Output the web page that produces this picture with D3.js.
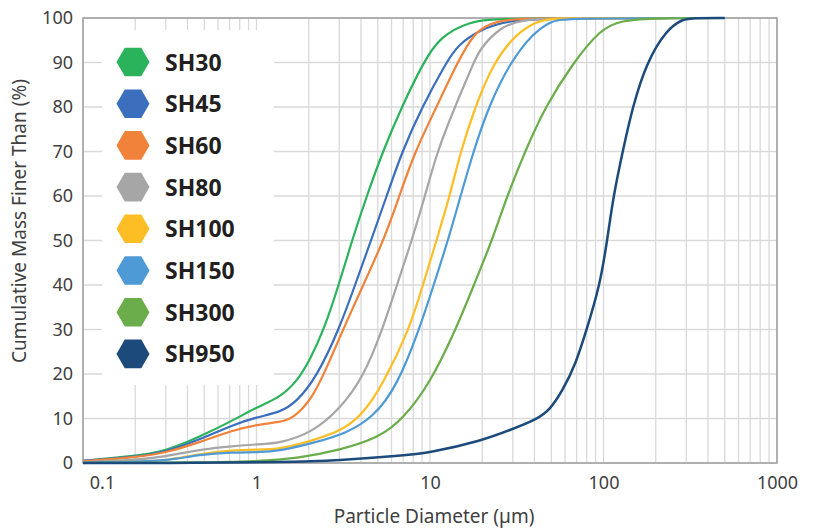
<!DOCTYPE html>
<html>
<head>
<meta charset="utf-8">
<script src="https://cdn.jsdelivr.net/npm/d3@7"></script>
<style>
  body { margin: 0; background: #fff; }
  text { font-family: "Noto Sans", sans-serif; }
</style>
</head>
<body>
<div id="chart"></div>
<script>
// Series names and colours
const seriesNames = ["SH30", "SH45", "SH60", "SH80", "SH100", "SH150", "SH300", "SH950"];
const seriesColors = ["#2bb35c", "#3b6fbe", "#f0823a", "#a6a6a6", "#fdbd24", "#4e9ad6", "#6aad4a", "#1b4a7b"];

// [particle diameter (µm), cumulative % finer]
const sh30 = [[0.1,0.5],[0.195,1.5],[0.303,2.7],[0.472,5.9],[0.734,9.6],[1.0,12.5],[1.37,14.8],[1.70,18.2],[2.03,23.1],[2.45,30],[2.98,40],[3.55,50],[4.32,60],[5.34,70],[6.87,80],[9.15,90],[11.4,95.8],[17.0,99.3],[25.3,100],[500,100]];
const sh45 = [[0.1,0.5],[0.195,1.3],[0.303,2.5],[0.472,5.3],[0.734,8.6],[1.0,10.3],[1.37,11.4],[1.70,13.7],[2.22,19.3],[2.99,30],[3.70,40],[4.57,50],[5.63,60],[6.9,70],[9.0,80],[12.4,90],[14.5,94],[19.4,97.3],[27.6,99.5],[56,100],[500,100]];
const sh60 = [[0.1,0.4],[0.195,1.2],[0.303,2.3],[0.472,4.7],[0.734,7.4],[1.0,8.6],[1.37,9.2],[1.63,10],[2.13,14.8],[2.65,23.1],[3.46,33.6],[5.43,50],[6.65,60],[8.19,70],[10.9,80],[14.4,90],[17.8,96.5],[22.2,98.8],[28.9,99.8],[56,100],[500,100]];
const sh80 = [[0.1,0.2],[0.195,0.6],[0.303,1.5],[0.38,2.3],[0.472,3.0],[0.734,3.8],[1.0,4.2],[1.37,4.4],[2.13,7.0],[3.03,12.2],[4.13,19.3],[5.32,30],[6.45,40],[7.85,50],[9.36,60],[11.0,70],[13.9,80],[17.9,90],[19.2,92.8],[25.3,98],[34.4,99.7],[56,100],[500,100]];
const sh100 = [[0.1,0.1],[0.195,0.3],[0.303,0.5],[0.472,2.1],[0.734,2.9],[1.0,3.0],[1.37,3.1],[2.13,5.1],[3.16,7.4],[4.13,11.1],[5.38,17.9],[7.60,30],[9.11,40],[10.9,50],[13.0,60],[15.0,70],[18.2,80],[23.2,90],[31.6,96.6],[41.2,99.2],[49.2,99.9],[71,100],[500,100]];
const sh150 = [[0.1,0.1],[0.195,0.3],[0.303,0.5],[0.472,1.9],[0.734,2.4],[1.0,2.4],[1.37,2.7],[2.13,4.5],[3.31,6.7],[4.71,10.3],[6.43,17.1],[8.68,30],[10.5,40],[12.7,50],[15.0,60],[17.8,70],[21.7,80],[28.9,90],[39.4,96.6],[49.2,99.2],[59.6,100],[500,100]];
const sh300 = [[0.1,0],[0.47,0.1],[1.0,0.4],[1.70,1.0],[3.03,2.9],[5.15,5.8],[7.02,10],[10.0,17.9],[14.1,30],[17.9,40],[22.8,50],[27.8,60],[35.3,70],[46.0,80],[67.0,90],[95.4,97.3],[124,99.5],[212,100],[500,100]];
const sh950 = [[0.1,0],[0.47,0],[1.37,0.2],[3.03,0.6],[6.7,1.6],[10,2.3],[20.2,5.1],[28.9,7.4],[41.2,9.8],[49,11.9],[58.2,16.3],[69.4,22.4],[80,30],[95.4,40],[105,50],[114,60],[129,70],[147,80],[177,90],[231,97.4],[287,99.8],[330,100],[500,100]];
const seriesData = [sh30, sh45, sh60, sh80, sh100, sh150, sh300, sh950];

// Tick values
const yTicks = [0, 10, 20, 30, 40, 50, 60, 70, 80, 90, 100];
const xTickLabels = [0.1, 1, 10, 100, 1000];

const width = 816;
const height = 529;
const margin = { top: 18, right: 39, bottom: 66, left: 83 };

const svg = d3.select("#chart")
  .append("svg")
  .attr("width", width)
  .attr("height", height);

// Scales
const x = d3.scaleLog()
  .domain([0.1, 1000])
  .range([margin.left, width - margin.right]);

const y = d3.scaleLinear()
  .domain([0, 100])
  .range([height - margin.bottom, margin.top]);

// Grid lines
svg.append("g")
  .selectAll("line")
  .data(x.ticks())
  .join("line")
  .attr("x1", d => x(d)).attr("x2", d => x(d))
  .attr("y1", y(0)).attr("y2", y(100))
  .attr("stroke", "#d9d9d9")
  .attr("stroke-width", 1.3);

svg.append("g")
  .selectAll("line")
  .data(yTicks)
  .join("line")
  .attr("x1", x(0.1)).attr("x2", x(1000))
  .attr("y1", d => y(d)).attr("y2", d => y(d))
  .attr("stroke", "#d9d9d9")
  .attr("stroke-width", 1.3);

// Plot border
svg.append("rect")
  .attr("x", x(0.1))
  .attr("y", y(100))
  .attr("width", x(1000) - x(0.1))
  .attr("height", y(0) - y(100))
  .attr("fill", "none")
  .attr("stroke", "#a3a3a3")
  .attr("stroke-width", 1.6);

// Axes
const yAxis = svg.append("g")
  .attr("transform", `translate(${margin.left},0)`)
  .call(d3.axisLeft(y).tickValues(yTicks).tickSize(0).tickPadding(10));

const xAxis = svg.append("g")
  .attr("transform", `translate(0,${y(0)})`)
  .call(d3.axisBottom(x).tickValues(xTickLabels).tickFormat(d3.format("~g")).tickSize(0).tickPadding(13));

[yAxis, xAxis].forEach(g => {
  g.select(".domain").remove();
  g.selectAll("text")
    .attr("fill", "#404040")
    .style("font-size", "18px");
});
xAxis.selectAll("text").attr("dx", (d, i) => i === 0 ? 19 : 0);

// Axis titles
svg.append("text")
  .attr("x", 434)
  .attr("y", 523)
  .attr("text-anchor", "middle")
  .attr("fill", "#404040")
  .style("font-size", "19px")
  .text("Particle Diameter (µm)");

svg.append("text")
  .attr("transform", "translate(26,221) rotate(-90)")
  .attr("text-anchor", "middle")
  .attr("fill", "#404040")
  .style("font-size", "19px")
  .text("Cumulative Mass Finer Than (%)");

// Lines (smoothed like the original spreadsheet curves)
const line = d3.line()
  .x(d => x(d[0]))
  .y(d => y(d[1]))
  .curve(d3.curveBasis);

svg.append("g")
  .selectAll("path")
  .data(seriesData)
  .join("path")
  .attr("fill", "none")
  .attr("stroke", (d, i) => seriesColors[i])
  .attr("stroke-width", (d, i) => i === 7 ? 2.5 : 2.2)
  .attr("stroke-linejoin", "round")
  .attr("d", line);

// Legend
const legend = svg.append("g");

legend.append("rect")
  .attr("x", 102)
  .attr("y", 30)
  .attr("width", 172)
  .attr("height", 355)
  .attr("fill", "#fff");

const hexR = 16.5;
const hexPoints = d3.range(6).map(k => {
  const a = Math.PI / 3 * k;
  return [hexR * Math.cos(a), hexR * Math.sin(a)];
});

const items = legend.selectAll("g.item")
  .data(seriesNames)
  .join("g")
  .attr("class", "item")
  .attr("transform", (d, i) => `translate(133,${62 + i * 41.7})`);

items.append("polygon")
  .attr("points", hexPoints.map(p => p.join(",")).join(" "))
  .attr("fill", (d, i) => seriesColors[i]);

items.append("text")
  .attr("x", 32)
  .attr("y", 8.5)
  .attr("fill", "#231f20")
  .style("font-size", "23px")
  .style("font-weight", "bold")
  .text(d => d);
</script>
</body>
</html>
